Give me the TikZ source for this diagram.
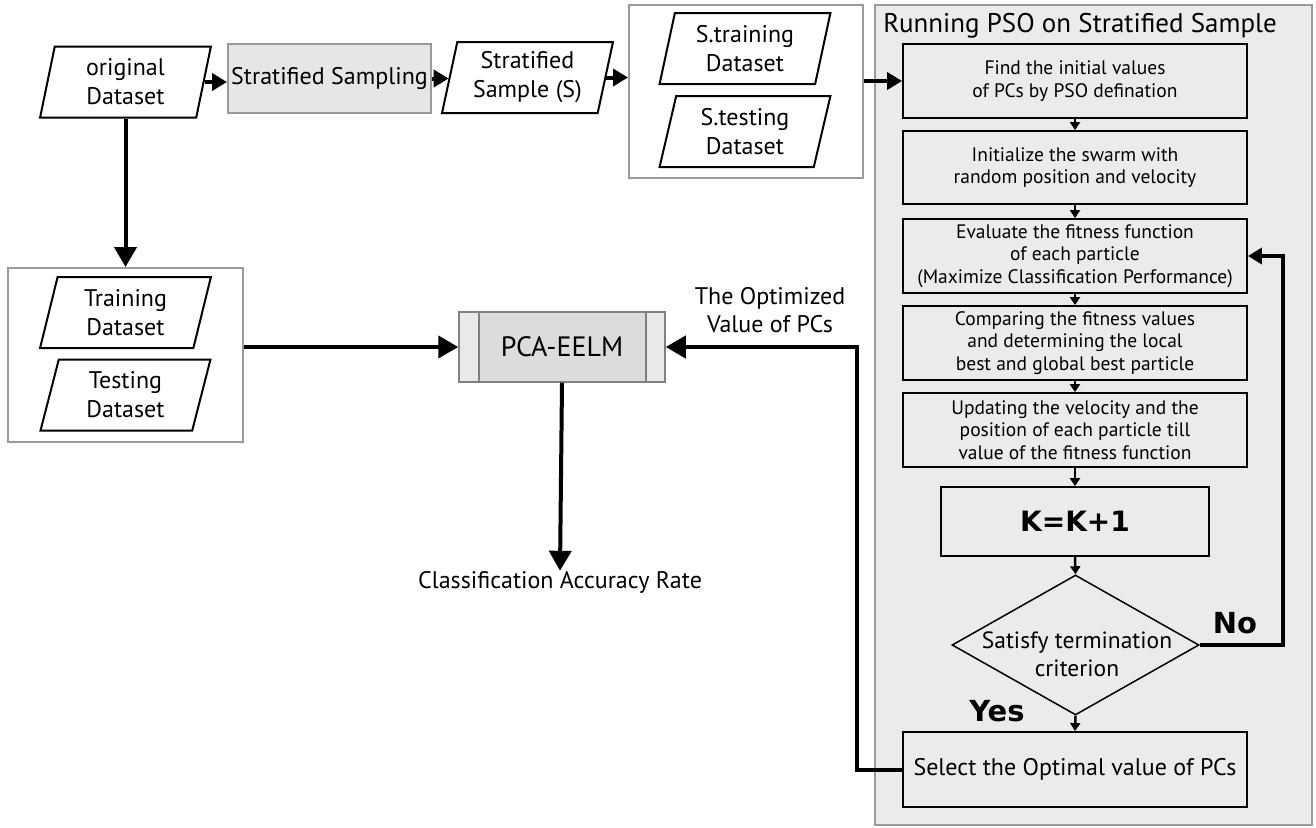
\documentclass[tikz,border=0pt]{standalone}
\usepackage{fontspec}
\setmainfont{PT Sans}
\newfontfamily\heavyfont{DejaVu Sans}
\usetikzlibrary{shapes.geometric,arrows.meta,calc}
\definecolor{psobg}{HTML}{EBEBEB}
\definecolor{grayline}{HTML}{9A9A9A}
\definecolor{ssfill}{HTML}{E6E6E6}
\definecolor{pcaout}{HTML}{E9E9E9}
\definecolor{pcain}{HTML}{DCDCDC}
\newcommand\lblfont{\fontsize{24}{29}\selectfont}
\newcommand\pfont{\fontsize{19.5}{22.5}\selectfont}
\newcommand\titlefont{\fontsize{27}{30}\selectfont}
\newcommand\midfont{\fontsize{24}{28}\selectfont}
\newcommand\kfont{\heavyfont\bfseries\fontsize{28}{30}\selectfont}
\begin{document}
\begin{tikzpicture}[x=1pt,y=-1pt,
  para/.style={trapezium, trapezium left angle=77, trapezium right angle=103,
    trapezium stretches=true, draw=black, line width=2pt, fill=white, inner sep=0pt,
    minimum width=171pt, minimum height=71pt, align=center, font=\lblfont},
  grpbox/.style={draw=grayline, line width=2pt, fill=white, inner sep=0pt},
  psostep/.style={draw=black, line width=1.8pt, fill=psobg, minimum width=344pt,
    minimum height=74pt, inner sep=0pt, align=center, font=\pfont},
  bigarrow/.style={line width=4pt, -{Triangle[length=20pt,width=22pt]}},
  toparrow/.style={line width=4pt, -{Triangle[length=15pt,width=17pt]}},
  psoarrow/.style={line width=2.5pt, -{Triangle[length=8pt,width=10pt]}},
]
\useasboundingbox[fill=white] (0,0) rectangle (1316,827);

% PSO background box
\node[draw=grayline, line width=2pt, fill=psobg, minimum width=437pt, minimum height=820pt, inner sep=0pt] (pso) at (1093.5,415) {};
\node[font=\titlefont, inner sep=0pt] (title) at (1080,26) {Running PSO on Stratified Sample};

% top row
\node[para, trapezium left angle=80, trapezium right angle=100] (od) at (125.5,82) {original\\Dataset};
\node[draw=grayline, line width=2pt, fill=ssfill, minimum width=203pt, minimum height=69pt, inner sep=0pt, font=\lblfont] (ss) at (329.5,78.5) {Stratified Sampling};
\node[para] (smp) at (527.5,77.5) {Stratified\\Sample (S)};
\node[grpbox, minimum width=234pt, minimum height=173pt] (sbox) at (746,91.5) {};
\node[para] (str) at (745,48.5) {S.training\\Dataset};
\node[para] (ste) at (745,131.5) {S.testing\\Dataset};

% left training group
\node[grpbox, minimum width=235pt, minimum height=174pt] (tbox) at (125.5,355) {};
\node[para] (trn) at (125.5,312.5) {Training\\Dataset};
\node[para] (tst) at (125.5,395) {Testing\\Dataset};

% PCA-EELM
\node[draw=gray, line width=1.5pt, fill=pcaout, minimum width=206pt, minimum height=70pt, inner sep=0pt,
  font=\fontsize{28}{30}\selectfont,
  path picture={
    \fill[pcain] ($(path picture bounding box.north west)+(20pt,0pt)$) rectangle ($(path picture bounding box.south east)+(-19pt,0pt)$);
    \draw[gray, line width=1.5pt] ($(path picture bounding box.north west)+(20pt,0pt)$) -- ($(path picture bounding box.south west)+(20pt,0pt)$);
    \draw[gray, line width=1.5pt] ($(path picture bounding box.north east)+(-19pt,0pt)$) -- ($(path picture bounding box.south east)+(-19pt,0pt)$);
  }] (pca) at (562,347) {PCA-EELM};
\node[font=\midfont, inner sep=0pt] (out) at (560,582) {Classification Accuracy Rate};
\node[font=\midfont, align=center, inner sep=0pt] (opt) at (770,310) {The Optimized\\Value of PCs};

% PSO steps
\node[psostep] (b1) at (1075,81) {Find the initial values\\of PCs by PSO defination};
\node[psostep, minimum height=73pt] (b2) at (1075,167.5) {Initialize the swarm with\\random position and velocity};
\node[psostep] (b3) at (1075,256) {Evaluate the fitness function\\of each particle\\(Maximize Classification Performance)};
\node[psostep] (b4) at (1075,343) {Comparing the fitness values\\and determining the local\\best and global best particle};
\node[psostep] (b5) at (1075,430) {Updating the velocity and the\\position of each particle till\\value of the fitness function};
\node[psostep, minimum width=268pt, minimum height=69pt, font=\kfont] (b6) at (1075,521.5) {K=K+1};
\node[diamond, draw=black, line width=1.5pt, fill=psobg, minimum width=247pt, minimum height=140pt, inner sep=0pt] (dia) at (1075.5,645) {};
\node[font=\fontsize{23.5}{28}\selectfont, align=center, inner sep=0pt] (diat) at (1077,654) {Satisfy termination\\criterion};
\node[psostep, minimum height=75pt, font=\midfont] (b7) at (1075,769.5) {Select the Optimal value of PCs};
\node[font=\heavyfont\bfseries\fontsize{29}{30}\selectfont, inner sep=0pt] (no) at (1235,623) {No};
\node[font=\heavyfont\bfseries\fontsize{29}{30}\selectfont, inner sep=0pt] (yes) at (997,711) {Yes};

\coordinate (fbx) at (857,0);
\coordinate (nox) at (1283,0);

% connectors
\draw[toparrow] (od.east) -- (od.east -| ss.west);
\draw[toparrow] (ss.east) -- (ss.east -| smp.west);
\draw[toparrow] (smp.east) -- (smp.east -| sbox.west);
\draw[toparrow] (sbox.east |- b1.west) -- (b1.west);
\draw[bigarrow] (od.south) -- (od.south |- tbox.north);
\draw[bigarrow] (tbox.east |- pca.west) -- (pca.west);
\draw[bigarrow] (pca.south) -- (out.north);
\draw[bigarrow] (b7.west) -- (b7.west -| fbx) |- (pca.east);
\draw[psoarrow] (b1.south) -- (b2.north);
\draw[psoarrow] (b2.south) -- (b3.north);
\draw[psoarrow] (b3.south) -- (b4.north);
\draw[psoarrow] (b4.south) -- (b5.north);
\draw[psoarrow] (b5.south) -- (b6.north);
\draw[psoarrow] (b6.south) -- (dia.north);
\draw[psoarrow] (dia.south) -- (b7.north);
\draw[line width=4pt, -{Triangle[length=14pt,width=16pt]}] (dia.east) -- (dia.east -| nox) |- (b3.east);
\end{tikzpicture}
\end{document}
